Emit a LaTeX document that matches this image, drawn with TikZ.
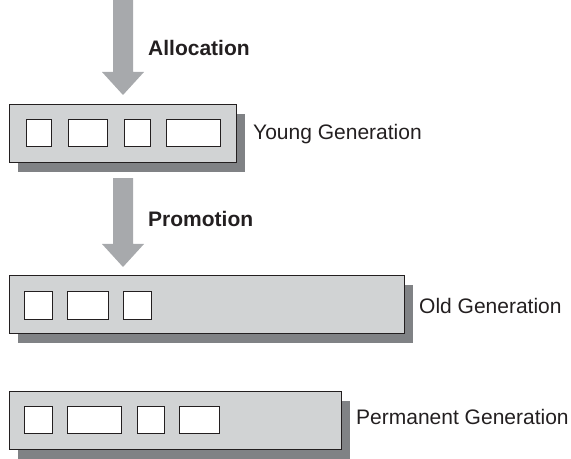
\documentclass[tikz,border=0pt]{standalone}
\usepackage{fontspec}
\setmainfont{Liberation Sans}
\usetikzlibrary{calc,shadows}
\definecolor{boxgray}{HTML}{D1D3D4}
\definecolor{shadowgray}{HTML}{808285}
\definecolor{arrowgray}{HTML}{A7A9AC}
\definecolor{edge}{HTML}{231F20}
\newcommand{\fatarrow}[2]{%
  \fill[arrowgray] ($(#1)+(-10,0)$) -- ($(#1)+(10,0)$) -- ($(#2)+(10,-23)$)
    -- ($(#2)+(21,-23)$) -- (#2) -- ($(#2)+(-21,-23)$) -- ($(#2)+(-10,-23)$) -- cycle;}
\begin{document}
\begin{tikzpicture}[x=1bp,y=-1bp,
  genbox/.style={draw=edge, fill=boxgray, line width=1.2bp, minimum height=58bp,
    anchor=north west, inner sep=0pt,
    general shadow={fill=shadowgray, shadow xshift=8bp, shadow yshift=-9bp}},
  cell/.style={draw=edge, fill=white, line width=1.2bp, anchor=north west,
    inner sep=0pt, minimum height=27bp},
  lbl/.style={anchor=base west, inner sep=0pt, text=edge,
    font=\fontsize{21bp}{25bp}\selectfont},
  ]
\useasboundingbox (0,0) rectangle (571,459);
% generation boxes
\node[genbox, minimum width=227bp] (young) at (9,104) {};
\node[genbox, minimum width=395bp] (old) at (9,275) {};
\node[genbox, minimum width=332bp] (perm) at (9,391) {};
% cells
\node[cell, minimum width=25bp] (y1) at (26,119) {};
\node[cell, minimum width=39bp] (y2) at (68,119) {};
\node[cell, minimum width=26bp] (y3) at (124,119) {};
\node[cell, minimum width=54bp] (y4) at (166,119) {};
\node[cell, minimum width=28bp, minimum height=28bp] (o1) at (24,291) {};
\node[cell, minimum width=41bp, minimum height=28bp] (o2) at (67,291) {};
\node[cell, minimum width=28bp, minimum height=28bp] (o3) at (123,291) {};
\node[cell, minimum width=28bp] (p1) at (24,406) {};
\node[cell, minimum width=54bp] (p2) at (67,406) {};
\node[cell, minimum width=27bp] (p3) at (137,406) {};
\node[cell, minimum width=40bp] (p4) at (179,406) {};
% arrows
\coordinate (tip1) at ($(young.north west)+(114,-9)$);
\coordinate (in) at (tip1 |- 0,0);
\coordinate (tail2) at ($(young.south west)+(114,15)$);
\coordinate (tip2) at ($(old.north west)+(114,-8)$);
\fatarrow{in}{tip1}
\fatarrow{tail2}{tip2}
% labels
\node[lbl] (alloc) at (148,56) {\bfseries Allocation};
\node[lbl] (promo) at (148,227) {\bfseries Promotion};
\node[lbl] (ylbl) at (253,140) {Young Generation};
\node[lbl] (olbl) at (419,313) {Old Generation};
\node[lbl] (plbl) at (356,424) {Permanent Generation};
\end{tikzpicture}
\end{document}
